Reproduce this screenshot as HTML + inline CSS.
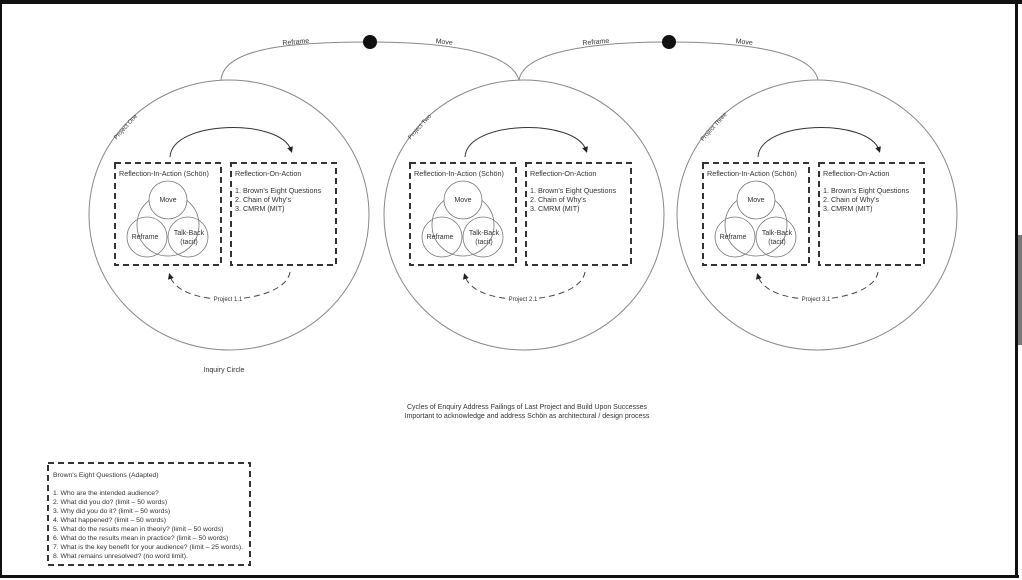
<!DOCTYPE html>
<html><head><meta charset="utf-8"><style>
html,body{margin:0;padding:0;background:#fff}
svg{display:block}
text{font-family:"Liberation Sans",sans-serif;fill:#333}
</style></head><body>
<svg width="1022" height="580" viewBox="0 0 1022 580" xmlns="http://www.w3.org/2000/svg">
<defs>
<marker id="ah" markerWidth="6" markerHeight="6" refX="3" refY="3" orient="auto"><path d="M0,0 L6,3 L0,6 z" fill="#222"/></marker>
<g id="unit">
  <ellipse cx="229" cy="215" rx="140" ry="135" fill="none" stroke="#888" stroke-width="1"/>
  <rect x="115" y="163" width="106" height="102" fill="none" stroke="#333" stroke-width="2" stroke-dasharray="6,4"/>
  <rect x="231" y="163" width="105" height="102" fill="none" stroke="#333" stroke-width="2" stroke-dasharray="6,4"/>
  <text x="119" y="176" font-size="7.2">Reflection-In-Action (Schön)</text>
  <text x="235" y="176" font-size="7.2">Reflection-On-Action</text>
  <text x="235" y="193" font-size="7.2">1. Brown's Eight Questions</text>
  <text x="235" y="202" font-size="7.2">2. Chain of Why's</text>
  <text x="235" y="211" font-size="7.2">3. CMRM (MIT)</text>
  <circle cx="168" cy="225" r="31" fill="none" stroke="#777" stroke-width="0.8"/>
  <circle cx="168" cy="200" r="19" fill="#fff" stroke="#777" stroke-width="0.8"/>
  <circle cx="147" cy="237" r="20" fill="none" stroke="#777" stroke-width="0.8"/>
  <circle cx="188" cy="237" r="20" fill="none" stroke="#777" stroke-width="0.8"/>
  <text x="168" y="202" font-size="7" text-anchor="middle">Move</text>
  <text x="145" y="239" font-size="7" text-anchor="middle">Reframe</text>
  <text x="189" y="235" font-size="7" text-anchor="middle">Talk-Back</text>
  <text x="189" y="244" font-size="7" text-anchor="middle">(tacit)</text>
  <path d="M170,157 C172,120 280,118 291,150" fill="none" stroke="#333" stroke-width="1" marker-end="url(#ah)"/>
  <path d="M290,272 C285,305 180,310 170,276" fill="none" stroke="#444" stroke-width="1" stroke-dasharray="6,4" marker-end="url(#ah)"/>
  <rect x="213" y="294" width="30" height="8" fill="#fff"/>
</g>
</defs>
<rect x="0" y="0" width="1022" height="580" fill="#fff"/>
<use href="#unit"/>
<use href="#unit" x="295"/>
<use href="#unit" x="588"/>
<text x="228" y="301" font-size="6" text-anchor="middle">Project 1.1</text>
<text x="523" y="301" font-size="6" text-anchor="middle">Project 2.1</text>
<text x="816" y="301" font-size="6" text-anchor="middle">Project 3.1</text>
<text x="127" y="128" font-size="6" transform="rotate(-48 127 128)" text-anchor="middle">Project One</text>
<text x="421" y="128" font-size="6" transform="rotate(-48 421 128)" text-anchor="middle">Project Two</text>
<text x="715" y="128" font-size="6" transform="rotate(-48 715 128)" text-anchor="middle">Project Three</text>
<!-- top arcs -->
<path d="M221,80 C224,46 300,42 370,42 C440,42 510,50 519,80 C524,50 600,42 669,42 C738,42 812,50 818,80" fill="none" stroke="#888" stroke-width="1"/>
<circle cx="370" cy="42" r="7" fill="#111"/>
<circle cx="669" cy="42" r="7" fill="#111"/>
<text x="296" y="44" font-size="7" text-anchor="middle" transform="rotate(-5 296 44)">Reframe</text>
<text x="444" y="44" font-size="7" text-anchor="middle" transform="rotate(6 444 44)">Move</text>
<text x="596" y="44" font-size="7" text-anchor="middle" transform="rotate(-5 596 44)">Reframe</text>
<text x="744" y="44" font-size="7" text-anchor="middle" transform="rotate(6 744 44)">Move</text>
<text x="224" y="372" font-size="7" text-anchor="middle">Inquiry Circle</text>
<text x="527" y="409" font-size="7" text-anchor="middle">Cycles of Enquiry Address Failings of Last Project and Build Upon Successes</text>
<text x="527" y="418" font-size="7" text-anchor="middle">Important to acknowledge and address Schön as architectural / design process</text>
<rect x="48" y="463" width="202" height="102" fill="none" stroke="#333" stroke-width="2" stroke-dasharray="6,4"/>
<g font-size="6.8">
<text x="53" y="477">Brown's Eight Questions (Adapted)</text>
<text x="53" y="495">1. Who are the intended audience?</text>
<text x="53" y="504">2. What did you do? (limit – 50 words)</text>
<text x="53" y="513">3. Why did you do it? (limit – 50 words)</text>
<text x="53" y="522">4. What happened? (limit – 50 words)</text>
<text x="53" y="531">5. What do the results mean in theory? (limit – 50 words)</text>
<text x="53" y="540">6. What do the results mean in practice? (limit – 50 words)</text>
<text x="53" y="549">7. What is the key benefit for your audience? (limit – 25 words).</text>
<text x="53" y="558">8. What remains unresolved? (no word limit).</text>
</g>
<!-- frame -->
<rect x="0" y="0" width="1022" height="4" fill="#111"/>
<rect x="0" y="0" width="2" height="578" fill="#111"/>
<rect x="0" y="575" width="1019" height="3" fill="#111"/>
<rect x="1015" y="0" width="3" height="578" fill="#111"/>
<rect x="1018" y="235" width="4" height="110" fill="#777"/>
</svg>
</body></html>
